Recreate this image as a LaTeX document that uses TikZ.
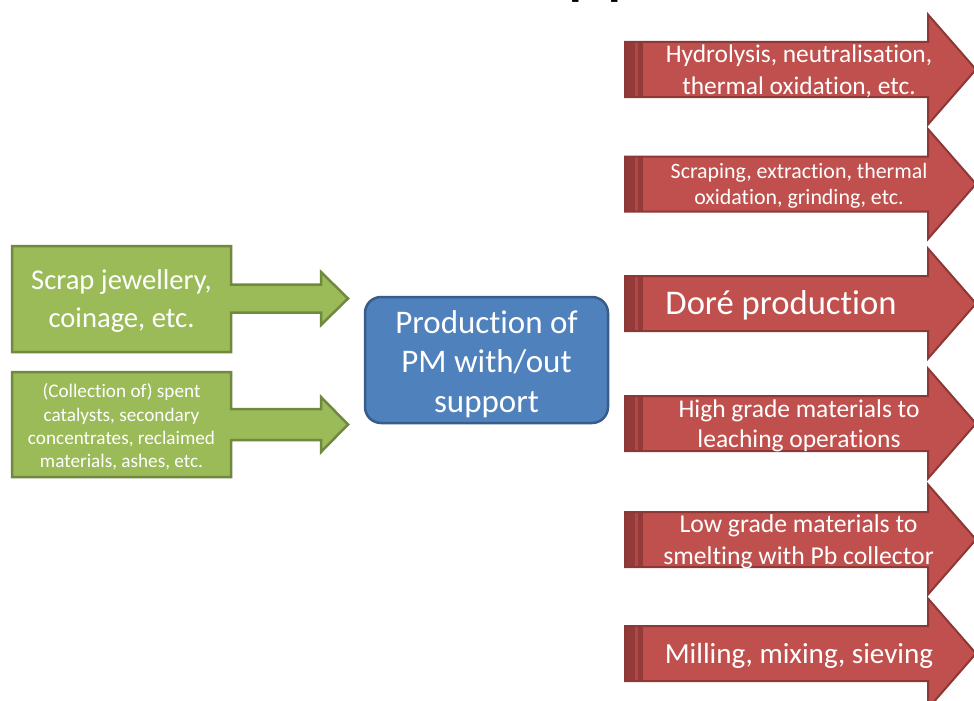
\documentclass[tikz,border=0pt]{standalone}
\usepackage{fontspec}
\setmainfont[Ligatures=NoCommon]{Carlito}

\definecolor{gfill}{HTML}{9BBB59}
\definecolor{gline}{HTML}{71893F}
\definecolor{bfill}{HTML}{4F81BD}
\definecolor{bline}{HTML}{385D8A}
\definecolor{rfill}{HTML}{C0504D}
\definecolor{rline}{HTML}{8C3836}
\definecolor{rstripe}{HTML}{943B39}
\definecolor{rmid}{HTML}{B04845}

\tikzset{
  greenshape/.style={fill=gfill, draw=gline, line width=2.5pt, line join=miter},
  blueshape/.style={fill=bfill, draw=bline, line width=2.5pt, rounded corners=16pt},
  redshape/.style={fill=rfill, draw=rline, line width=2pt, line join=miter},
  label/.style={text=white, align=center, inner sep=0pt},
}

% striped red output arrow: name, centre y, text x, font, text
\newcommand\RedArrow[5]{%
  \begin{scope}[shift={(0,#2)}]
    \path[redshape, draw=none] (625,-27.5) -- (928,-27.5) -- (928,-55) -- (976,0)
      -- (928,55) -- (928,27.5) -- (625,27.5) -- cycle;
    \fill[rstripe] (625,-27.5) rectangle (635,27.5);
    \fill[rmid] (635,-27.5) rectangle (637.5,27.5);
    \fill[rstripe] (637.5,-27.5) rectangle (643,27.5);
    \path[redshape, fill=none] (625,-27.5) -- (928,-27.5) -- (928,-55) -- (976,0)
      -- (928,55) -- (928,27.5) -- (625,27.5) -- cycle;
    \node[label, font=#4] (#1) at (#3,2) {#5};
  \end{scope}}

\begin{document}
\begin{tikzpicture}[x=1pt, y=-1pt]
  \useasboundingbox (0,0) rectangle (974,701);
  \clip (0,0) rectangle (974,701);
  \fill[white] (0,0) rectangle (974,701);

  % heading, mostly above the frame
  \node[font=\fontsize{74}{80}\selectfont, anchor=base west, inner sep=0pt] (heading)
    at (567.4,-9.5) {pp};

  % input callouts
  \path[greenshape] (12,246) -- (231,246) -- (231,284.5) -- (321,284.5) -- (321,272)
    -- (348,298.5) -- (321,325) -- (321,312.5) -- (231,312.5) -- (231,352) -- (12,352) -- cycle;
  \node[label, font=\fontsize{28.6}{38}\selectfont] (in1) at (121.5,301)
    {Scrap jewellery,\\coinage, etc.};

  \path[greenshape] (12,372) -- (231,372) -- (231,409) -- (321,409) -- (321,397)
    -- (348,424.5) -- (321,452) -- (321,440) -- (231,440) -- (231,477) -- (12,477) -- cycle;
  \node[label, font=\fontsize{19.2}{23.4}\selectfont] (in2) at (121.5,427)
    {(Collection of) spent\\catalysts, secondary\\concentrates, reclaimed\\materials, ashes, etc.};

  % central process
  \path[blueshape] (365,297) rectangle (608,423);
  \node[label, font=\fontsize{33}{39.5}\selectfont] (prod) at (486.5,364)
    {Production of\\PM with/out\\support};

  % output routes
  \RedArrow{out1}{69.5}{799}{\fontsize{25.4}{31.5}\selectfont}{Hydrolysis, neutralisation,\\thermal oxidation, etc.}
  \RedArrow{out2}{184}{799}{\fontsize{21.9}{25.5}\selectfont}{Scraping, extraction, thermal\\oxidation, grinding, etc.}
  \RedArrow{out3}{303.5}{781}{\fontsize{34.6}{40}\selectfont}{Doré production}
  \RedArrow{out4}{423.5}{799}{\fontsize{25.5}{30}\selectfont}{High grade materials to\\leaching operations}
  \RedArrow{out5}{539.5}{798.5}{\fontsize{25.7}{32}\selectfont}{Low grade materials to\\smelting with Pb collector}
  \RedArrow{out6}{653.5}{799}{\fontsize{29.1}{34}\selectfont}{Milling, mixing, sieving}
\end{tikzpicture}
\end{document}
